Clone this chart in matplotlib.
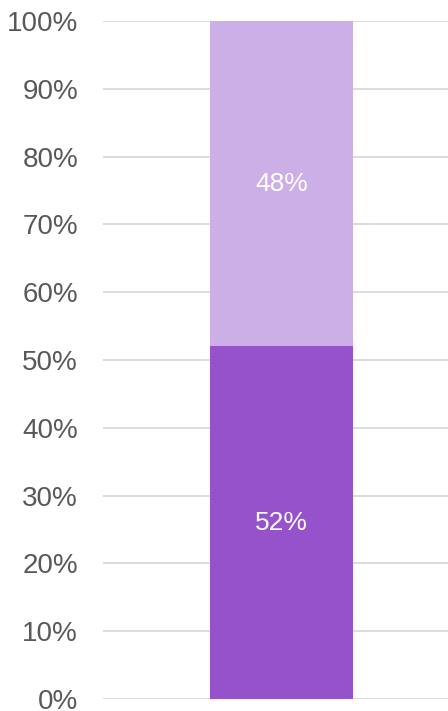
import matplotlib.pyplot as plt
from matplotlib.ticker import PercentFormatter

plt.rcParams['font.family'] = ['Liberation Sans', 'DejaVu Sans']

# data
categories = ['']
bottom_share = [52]
top_share = [48]
bottom_color = '#9652CB'
top_color = '#CDAFE7'

fig = plt.figure(figsize=(4.48, 7.11), dpi=100)
ax = fig.add_axes([103 / 448, 12 / 711, 345 / 448, 678 / 711])

x = range(len(categories))
ax.bar(x, bottom_share, width=1, color=bottom_color, zorder=3)
ax.bar(x, top_share, width=1, bottom=bottom_share, color=top_color, zorder=3)

for i in x:
    ax.text(i, bottom_share[i] / 2, f'{bottom_share[i]}%', ha='center', va='center',
            color='white', fontsize=19, zorder=4)
    ax.text(i, bottom_share[i] + top_share[i] / 2, f'{top_share[i]}%', ha='center',
            va='center', color='white', fontsize=19, zorder=4)

ax.set_xlim(-1.248, 1.164)
ax.set_ylim(0, 100)
ax.set_yticks(range(0, 101, 10))
ax.yaxis.set_major_formatter(PercentFormatter(decimals=0))
ax.set_xticks([])
ax.grid(axis='y', color='#d9d9d9', linewidth=1.3, zorder=0)
ax.tick_params(axis='y', length=0, pad=18, labelsize=20, labelcolor='#595959')
for s in ax.spines.values():
    s.set_visible(False)

fig.savefig('out.png', dpi=100)
